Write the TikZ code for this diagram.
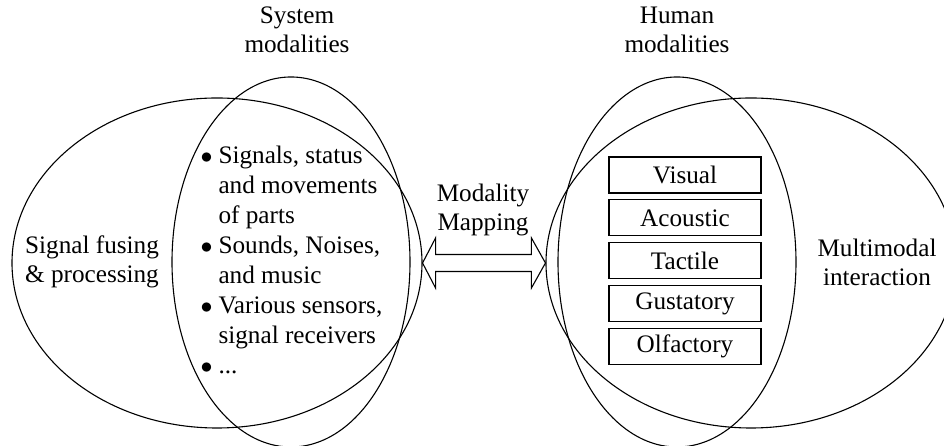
\documentclass[tikz,border=0pt]{standalone}
\usepackage{fontspec}
\setmainfont{Liberation Serif}
\usetikzlibrary{positioning, calc, shapes.geometric}
\newcommand{\itm}{\makebox[9bp][l]{$\bullet$}}
\newcommand{\ind}{\hspace*{9bp}}

\begin{document}
\begin{tikzpicture}[
      x=0.5bp, y=-0.5bp,
      line width=0.55bp,
      every node/.style={inner sep=0pt, font=\fontsize{12.6bp}{14.5bp}\selectfont},
      bigset/.style={draw, ellipse, minimum width=205bp, minimum height=165bp},
      tallset/.style={draw, ellipse, minimum width=119bp, minimum height=185bp},
      modbox/.style={draw, minimum width=76bp, minimum height=18bp},
      lbl/.style={align=center}
    ]
      \useasboundingbox (0,0) rectangle (944,446);

      % the four sets
      \node[bigset] (sysbig) at (217,263) {};
      \node[tallset] (systall) at (291,262) {};
      \node[bigset] (humbig) at (751,263) {};
      \node[tallset] (humtall) at (677,262) {};

      % headings and side labels
      \node[lbl] (syshead) at (297,30) {System\\modalities};
      \node[lbl] (humhead) at (677,30) {Human\\modalities};
      \node[lbl] (fusing) at (92,262) {Signal fusing\\\& processing};
      \node[lbl] (multi) at (877,262) {Multimodal\\interaction};
      \node[lbl] (mapping) at (483,210) {Modality\\Mapping};

      % system modalities
      \node[align=left, anchor=west,
        font=\fontsize{12.6bp}{15bp}\selectfont] (syslist) at (200,260)
        {\itm Signals, status\\ \ind and movements\\ \ind of parts\\
         \itm Sounds, Noises,\\ \ind and music\\
         \itm Various sensors,\\ \ind signal receivers\\ \itm ...};

      % human modalities
      \node[modbox] (visual) at (685,175) {Visual};
      \node[modbox, below=2.9bp of visual] (acoustic) {Acoustic};
      \node[modbox, below=2.9bp of acoustic] (tactile) {Tactile};
      \node[modbox, below=2.9bp of tactile] (gustatory) {Gustatory};
      \node[modbox, below=2.9bp of gustatory] (olfactory) {Olfactory};

      % mapping arrow
      \coordinate (tipL) at (sysbig.east);
      \coordinate (tipR) at (humbig.west);
      \draw (tipL) -- ++(13,-25) -- ++(0,16.5) -- ($(tipR)+(-14,-8.5)$)
        -- ++(0,-16.5) -- (tipR) -- ++(-14,25) -- ++(0,-16.5)
        -- ($(tipL)+(13,8.5)$) -- ++(0,16.5) -- cycle;
    \end{tikzpicture}
\end{document}
